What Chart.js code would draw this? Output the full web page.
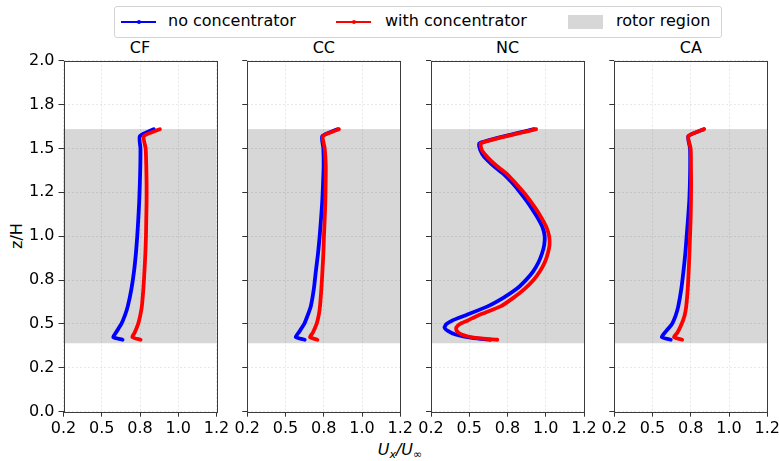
<!DOCTYPE html>
<html>
<head>
<meta charset="utf-8">
<title>Velocity profiles</title>
<script src="https://cdn.jsdelivr.net/npm/chart.js@4.4.0/dist/chart.umd.min.js"></script>
<style>
    body   { margin:0; background:#fff; font-family:"DejaVu Sans", sans-serif; color:#000; }
    #fig   { position:relative; width:779px; height:461px; overflow:hidden; }
    canvas { position:absolute; top:0; }
    .title { position:absolute; top:38px; width:153px; text-align:center; font-size:16px; line-height:20px; }
    .legend { position:absolute; left:114px; top:6px; width:606px; height:30px; border:1px solid #d4d4d4; border-radius:3px; background:#fff; }
    .lg-line { position:absolute; top:14px; height:2px; width:35px; }
    .lg-line i { position:absolute; left:16px; top:-1px; width:4px; height:4px; border-radius:2px; background:inherit; }
    .lg-patch { position:absolute; top:8px; width:35px; height:14px; background:#d7d7d7; }
    .lg-text { position:absolute; top:4px; font-size:16px; line-height:20px; white-space:nowrap; }
    .ylabel { position:absolute; left:-3px; top:226px; width:40px; text-align:center; font-size:16px; line-height:20px; transform:rotate(-90deg); }
    .xlabel { position:absolute; left:360px; top:440px; width:80px; text-align:center; font-size:16px; line-height:20px; font-style:italic; }
    .xlabel sub { font-size:11px; vertical-align:-3px; }
</style>
</head>
<body>
<div id="fig">
    <div class="legend">
        <div class="lg-line" style="left:6px;background:#0000ff"><i></i></div>
        <div class="lg-text" style="left:53px">no concentrator</div>
        <div class="lg-line" style="left:221px;background:#ff0000"><i></i></div>
        <div class="lg-text" style="left:270px">with concentrator</div>
        <div class="lg-patch" style="left:453px"></div>
        <div class="lg-text" style="left:501px">rotor region</div>
    </div>
    <div class="ylabel">z/H</div>
    <div class="xlabel">U<sub>x</sub>/U<sub>∞</sub></div>
</div>

<script>
// ── Data ──────────────────────────────────────────────────────────────
const panelNames  = ['CF', 'CC', 'NC', 'CA'];
const xTickLabels = ['0.2', '0.5', '0.8', '1.0', '1.2'];
const yTickLabels = ['0.0', '0.2', '0.5', '0.8', '1.0', '1.2', '1.5', '1.8', '2.0'];
const rotorZ      = [0.39, 1.61];

// heights z/H shared by the straight profiles
const zStd = [0.41, 0.425, 0.45, 0.5, 0.55, 0.6, 0.7, 0.8, 0.9, 1.0, 1.1, 1.2, 1.3, 1.4, 1.5, 1.57, 1.61];

const noCF   = [0.636, 0.575, 0.592, 0.628, 0.652, 0.670, 0.694, 0.711, 0.723, 0.732, 0.739, 0.745, 0.749, 0.752, 0.753, 0.749, 0.840];
const withCF = [0.754, 0.700, 0.715, 0.738, 0.752, 0.762, 0.772, 0.779, 0.785, 0.789, 0.791, 0.793, 0.793, 0.791, 0.787, 0.775, 0.880];

const noCC   = [0.625, 0.566, 0.585, 0.622, 0.645, 0.665, 0.685, 0.698, 0.712, 0.723, 0.732, 0.740, 0.745, 0.749, 0.747, 0.740, 0.840];
const withCC = [0.708, 0.660, 0.678, 0.703, 0.717, 0.725, 0.734, 0.741, 0.747, 0.751, 0.756, 0.760, 0.762, 0.763, 0.756, 0.745, 0.849];

const noCA   = [0.619, 0.560, 0.580, 0.627, 0.652, 0.668, 0.688, 0.702, 0.714, 0.723, 0.732, 0.740, 0.744, 0.746, 0.745, 0.734, 0.836];
const withCA = [0.694, 0.640, 0.662, 0.690, 0.710, 0.720, 0.730, 0.736, 0.741, 0.745, 0.749, 0.751, 0.752, 0.751, 0.749, 0.734, 0.836];

// NC profile bends a lot, so it gets its own heights
const zNC    = [0.41, 0.42, 0.44, 0.46, 0.48, 0.50, 0.52, 0.55, 0.60, 0.65, 0.70, 0.75, 0.80, 0.85, 0.90, 0.95, 1.00, 1.05, 1.10, 1.15, 1.20, 1.25, 1.30, 1.35, 1.40, 1.45, 1.49, 1.53, 1.61];
const noNC   = [0.637, 0.520, 0.410, 0.360, 0.338, 0.352, 0.390, 0.478, 0.620, 0.725, 0.810, 0.870, 0.918, 0.952, 0.975, 0.990, 0.993, 0.979, 0.950, 0.915, 0.876, 0.832, 0.785, 0.730, 0.660, 0.600, 0.572, 0.567, 0.922];
const withNC = [0.683, 0.540, 0.450, 0.418, 0.415, 0.440, 0.490, 0.560, 0.705, 0.790, 0.862, 0.920, 0.962, 0.993, 1.013, 1.025, 1.022, 1.005, 0.975, 0.940, 0.900, 0.855, 0.805, 0.752, 0.680, 0.620, 0.583, 0.576, 0.937];

const profiles = [
    { z: zStd, no: noCF, with: withCF },
    { z: zStd, no: noCC, with: withCC },
    { z: zNC,  no: noNC, with: withNC },
    { z: zStd, no: noCA, with: withCA },
];

// ── Layout ────────────────────────────────────────────────────────────
const PANEL_LEFT  = [63.5, 247.3, 431, 614.3];
const PANEL_W     = 153;
const PLOT_TOP    = 60.7;
const PLOT_BOTTOM = 411.7;
const X_AXIS_H    = 30;
const FIG_H       = 461;

const FONT = { family: '"DejaVu Sans", sans-serif', size: 16 };
const GRID = 'rgba(0,0,0,0.09)';

// grey band for the rotor, under the grid
const rotorBand = {
    id: 'rotorBand',
    beforeDraw(chart) {
        const { ctx, chartArea: a, scales: { y } } = chart;
        const top = y.getPixelForValue(rotorZ[1]);
        const bot = y.getPixelForValue(rotorZ[0]);
        ctx.save();
        ctx.fillStyle = '#d7d7d7';
        ctx.fillRect(a.left, top, a.right - a.left, bot - top);
        ctx.restore();
    }
};

// full box around the axes
const frame = {
    id: 'frame',
    afterDraw(chart) {
        const { ctx, chartArea: a } = chart;
        ctx.save();
        ctx.strokeStyle = '#3c3c3c';
        ctx.lineWidth = 1;
        ctx.strokeRect(Math.round(a.left) + 0.5, Math.round(a.top) + 0.5,
                       Math.round(a.right - a.left), Math.round(a.bottom - a.top));
        ctx.restore();
    }
};

const toPoints = (xs, zs) => zs.map((z, i) => ({ x: xs[i], y: z }));

// ── Panels ────────────────────────────────────────────────────────────
const fig = document.getElementById('fig');

panelNames.forEach((name, i) => {
    const left   = i === 0 ? 0 : Math.floor(PANEL_LEFT[i]) - 24;
    const right  = PANEL_LEFT[i] + PANEL_W;
    const width  = Math.ceil(right) + 18 - left;
    const yAxisW = PANEL_LEFT[i] - left;

    const title = document.createElement('div');
    title.className = 'title';
    title.style.left = PANEL_LEFT[i] + 'px';
    title.textContent = name;
    fig.appendChild(title);

    const canvas = document.createElement('canvas');
    canvas.width = width;
    canvas.height = FIG_H;
    canvas.style.left = left + 'px';
    canvas.style.width = width + 'px';
    canvas.style.height = FIG_H + 'px';
    fig.appendChild(canvas);

    const p = profiles[i];

    new Chart(canvas.getContext('2d'), {
        type: 'line',
        data: {
            datasets: [
                { label: 'with concentrator', data: toPoints(p.with, p.z), borderColor: '#ff0000', backgroundColor: '#ff0000' },
                { label: 'no concentrator',   data: toPoints(p.no,   p.z), borderColor: '#0000ff', backgroundColor: '#0000ff' },
            ]
        },
        options: {
            responsive: false,
            animation: false,
            events: [],
            layout: { padding: { left: 0, right: width - (right - left), top: PLOT_TOP, bottom: FIG_H - PLOT_BOTTOM - X_AXIS_H } },
            elements: {
                line:  { borderWidth: 3.8, tension: 0.2, borderCapStyle: 'round', borderJoinStyle: 'round' },
                point: { radius: 0 },
            },
            plugins: { legend: { display: false }, tooltip: { enabled: false } },
            scales: {
                x: {
                    type: 'linear', min: 0.25, max: 1.25,
                    afterFit: s => { s.height = X_AXIS_H; },
                    ticks: { stepSize: 0.25, color: '#000', font: FONT, padding: 3, maxRotation: 0,
                             callback: (v, idx) => xTickLabels[idx] },
                    grid: { color: GRID, tickColor: '#333', tickLength: 5 },
                    border: { display: false, dash: [2, 2] },
                },
                y: {
                    type: 'linear', min: 0, max: 2,
                    afterFit: s => { s.width = yAxisW; },
                    ticks: { display: i === 0, stepSize: 0.25, color: '#000', font: FONT, padding: 4,
                             callback: (v, idx) => yTickLabels[idx] },
                    grid: { color: GRID, tickColor: '#333', tickLength: 5 },
                    border: { display: false, dash: [2, 2] },
                },
            },
        },
        plugins: [rotorBand, frame],
    });
});
</script>
</body>
</html>
